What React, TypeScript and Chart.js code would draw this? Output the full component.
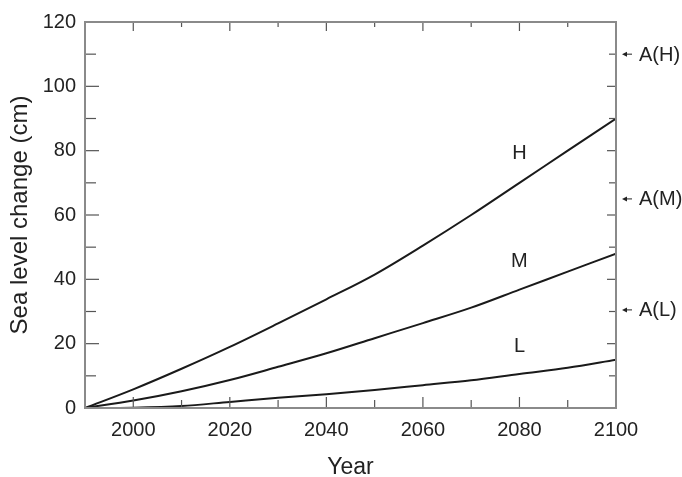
import React, { useEffect, useRef } from 'react';
import { Chart, registerables } from 'chart.js';

Chart.register(...registerables);

const years = [1990, 2000, 2010, 2020, 2030, 2040, 2050, 2060, 2070, 2080, 2090, 2100];
const highRise = [0, 5.8, 12.2, 19, 26.3, 33.8, 41.5, 50.5, 60, 70, 80, 90];
const midRise = [0, 2.3, 5.2, 8.7, 12.8, 17, 21.7, 26.4, 31.2, 36.8, 42.4, 48];
const lowRise = [0, 0.1, 0.6, 1.9, 3.2, 4.3, 5.6, 7.1, 8.6, 10.6, 12.5, 15];

const xMajorTicks = [2000, 2020, 2040, 2060, 2080, 2100];
const xMinorTicks = [2010, 2030, 2050, 2070, 2090];
const yMajorTicks = [0, 20, 40, 60, 80, 100, 120];
const yMinorTicks = [10, 30, 50, 70, 90, 110];

const curveLabels = ['H', 'M', 'L'];
const curveLabelYear = 2080;
const curveLabelValues = [79, 45.5, 19.2];

const sideLabels = ['A(H)', 'A(M)', 'A(L)'];
const sideValues = [110, 65, 30.5];

const FONT = '"Liberation Sans", Arial, Helvetica, sans-serif';

const framePlugin = {
  id: 'frame',
  afterDatasetsDraw(chart: any) {
    const { ctx, chartArea: a, scales } = chart;
    const x = scales.x;
    const y = scales.y;
    ctx.save();
    ctx.strokeStyle = '#555';
    ctx.lineWidth = 1.2;
    const seg = (x1: number, y1: number, x2: number, y2: number) => {
      ctx.beginPath();
      ctx.moveTo(x1, y1);
      ctx.lineTo(x2, y2);
      ctx.stroke();
    };
    for (const v of xMajorTicks) {
      const px = x.getPixelForValue(v);
      seg(px, a.bottom, px, a.bottom - 11);
      seg(px, a.top, px, a.top + 9);
    }
    for (const v of xMinorTicks) {
      const px = x.getPixelForValue(v);
      seg(px, a.bottom, px, a.bottom - 8);
      seg(px, a.top, px, a.top + 5);
    }
    for (const v of yMajorTicks) {
      const py = y.getPixelForValue(v);
      seg(a.left, py, a.left + 14, py);
      seg(a.right, py, a.right - 9, py);
    }
    for (const v of yMinorTicks) {
      const py = y.getPixelForValue(v);
      seg(a.left, py, a.left + 11, py);
      seg(a.right, py, a.right - 7, py);
    }
    ctx.strokeStyle = '#8a8a8a';
    ctx.lineWidth = 2;
    ctx.strokeRect(a.left, a.top, a.right - a.left, a.bottom - a.top);

    ctx.fillStyle = '#222';
    ctx.font = '20px ' + FONT;
    ctx.textAlign = 'center';
    ctx.textBaseline = 'middle';
    curveLabels.forEach((t, i) => {
      ctx.fillText(t, x.getPixelForValue(curveLabelYear), y.getPixelForValue(curveLabelValues[i]));
    });

    ctx.textAlign = 'left';
    ctx.strokeStyle = '#222';
    ctx.lineWidth = 1;
    sideLabels.forEach((t, i) => {
      const py = y.getPixelForValue(sideValues[i]);
      seg(a.right + 10, py, a.right + 16, py);
      ctx.beginPath();
      ctx.moveTo(a.right + 6, py);
      ctx.lineTo(a.right + 11, py - 2.5);
      ctx.lineTo(a.right + 11, py + 2.5);
      ctx.closePath();
      ctx.fill();
      ctx.fillText(t, a.right + 23, py + 1);
    });
    ctx.restore();
  },
};

export default function App() {
  const ref = useRef<HTMLCanvasElement>(null);
  useEffect(() => {
    if (!ref.current) return;
    const mk = (data: number[]) => ({
      data: years.map((yr, i) => ({ x: yr, y: data[i] })),
      borderColor: '#1a1a1a',
      borderWidth: 2,
      pointRadius: 0,
      cubicInterpolationMode: 'monotone' as const,
      fill: false,
    });
    const chart = new Chart(ref.current, {
      type: 'line',
      data: { datasets: [mk(highRise), mk(midRise), mk(lowRise)] },
      options: {
        animation: false,
        responsive: true,
        maintainAspectRatio: false,
        layout: { padding: { top: 22, right: 66, bottom: 0, left: 0 } },
        plugins: { legend: { display: false }, tooltip: { enabled: false } },
        scales: {
          x: {
            type: 'linear',
            min: 1990,
            max: 2100,
            grid: { display: false, drawTicks: false },
            border: { display: false },
            afterBuildTicks: (s: any) => {
              s.ticks = xMajorTicks.map((v) => ({ value: v }));
            },
            afterFit: (s: any) => {
              s.height = 69;
            },
            ticks: {
              font: { family: FONT, size: 20 },
              color: '#222',
              padding: 10,
              maxRotation: 0,
              autoSkip: false,
              callback: (v: any) => String(v),
            },
            title: {
              display: true,
              text: 'Year',
              font: { family: FONT, size: 23, lineHeight: 0.85 },
              color: '#222',
              padding: { top: 0, bottom: 0 },
            },
          },
          y: {
            min: 0,
            max: 120,
            grid: { display: false, drawTicks: false },
            border: { display: false },
            afterBuildTicks: (s: any) => {
              s.ticks = yMajorTicks.map((v) => ({ value: v }));
            },
            afterFit: (s: any) => {
              s.width = 85;
            },
            ticks: {
              font: { family: FONT, size: 20 },
              color: '#222',
              padding: 9,
              autoSkip: false,
              callback: (v: any) => String(v),
            },
            title: {
              display: true,
              text: 'Sea level change (cm)',
              font: { family: FONT, size: 24, lineHeight: 1.2 },
              color: '#222',
              padding: { top: 6, bottom: 0 },
            },
          },
        },
      },
      plugins: [framePlugin],
    });
    return () => chart.destroy();
  }, []);
  return (
    <div style={{ position: 'fixed', left: 0, top: 0, width: 682, height: 477, background: '#fff' }}>
      <canvas ref={ref} />
    </div>
  );
}
